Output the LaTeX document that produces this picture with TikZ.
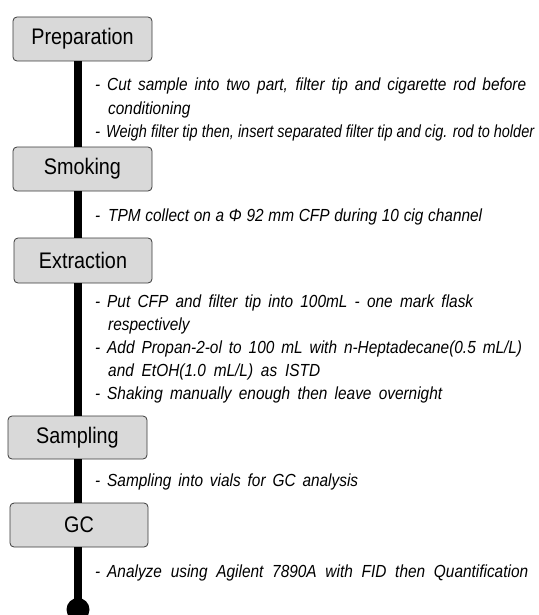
\documentclass[tikz,border=0pt]{standalone}
\usepackage{fontspec}
\usepackage{graphicx}
\setmainfont{Liberation Sans}[FakeStretch=0.88]
\newlength\jlw
\newcommand\jline[2]{\settowidth\jlw{#2}\ifdim\jlw>#1\relax\resizebox{#1}{\height}{#2}\else\makebox[#1][s]{#2}\fi}
\definecolor{boxfill}{HTML}{D9D9D9}
\definecolor{boxline}{HTML}{3A3A3A}
\begin{document}
\begin{tikzpicture}[x=1pt,y=-1pt,
  stage/.style={draw=boxline, fill=boxfill, rounded corners=4pt, line width=0.8pt,
    font=\fontsize{22.5}{26}\selectfont, inner sep=0pt},
  note/.style={anchor=base west, inner sep=0pt, font=\itshape\fontsize{17.5}{20}\selectfont},
  spine/.style={line width=7.5pt, black}]
\useasboundingbox (0,0) rectangle (538,615);

% stages
\node[stage, minimum width=139pt, minimum height=44pt] (prep) at (82.5,39) {Preparation};
\node[stage, minimum width=139pt, minimum height=44pt] (smok) at (82.5,169) {Smoking};
\node[stage, minimum width=138pt, minimum height=45pt] (extr) at (83,260.5) {Extraction};
\node[stage, minimum width=139pt, minimum height=43pt] (samp) at (77.5,437.5) {Sampling};
\node[stage, minimum width=138pt, minimum height=44pt] (gc) at (79,525) {GC};
\coordinate (end) at (78,609.5);

% spine
\draw[spine] (prep.south -| end) -- (smok.north -| end);
\draw[spine] (smok.south -| end) -- (extr.north -| end);
\draw[spine] (extr.south -| end) -- (samp.north -| end);
\draw[spine] (samp.south -| end) -- (gc.north -| end);
\draw[spine] (gc.south -| end) -- (end);
\fill[black] (end) circle (11.5);

% notes: Preparation
\node[note] (d1) at (95,91) {-};
\node[note] (t1) at (107,91) {\jline{419pt}{Cut sample into two part, filter tip and cigarette rod before}};
\node[note] (t1b) at (108,114) {conditioning};
\node[note] (d2) at (95,137) {-};
\node[note] (t2) at (106,137) {\jline{428pt}{Weigh filter tip then, insert separated filter tip and cig. rod to holder}};

% Smoking
\node[note] (d3) at (95,221) {-};
\node[note] (t3) at (108,221) {\jline{374pt}{TPM collect on a Φ 92 mm CFP during 10 cig channel}};

% Extraction
\node[note] (d4) at (95,307) {-};
\node[note] (t4) at (107,307) {\jline{366pt}{Put CFP and filter tip into 100mL - one mark flask}};
\node[note] (t4b) at (108,330) {respectively};
\node[note] (d5) at (95,353) {-};
\node[note] (t5) at (107,353) {\jline{415pt}{Add Propan-2-ol to 100 mL with n-Heptadecane(0.5 mL/L)}};
\node[note] (t5b) at (108,376) {\jline{212pt}{and EtOH(1.0 mL/L) as ISTD}};
\node[note] (d6) at (95,399) {-};
\node[note] (t6) at (107,399) {\jline{335pt}{Shaking manually enough then leave overnight}};

% Sampling
\node[note] (d7) at (95,486) {-};
\node[note] (t7) at (107,486) {\jline{251pt}{Sampling into vials for GC analysis}};

% GC
\node[note] (d8) at (95,577) {-};
\node[note] (t8) at (107,577) {\jline{421pt}{Analyze using Agilent 7890A with FID then Quantification}};
\end{tikzpicture}
\end{document}
